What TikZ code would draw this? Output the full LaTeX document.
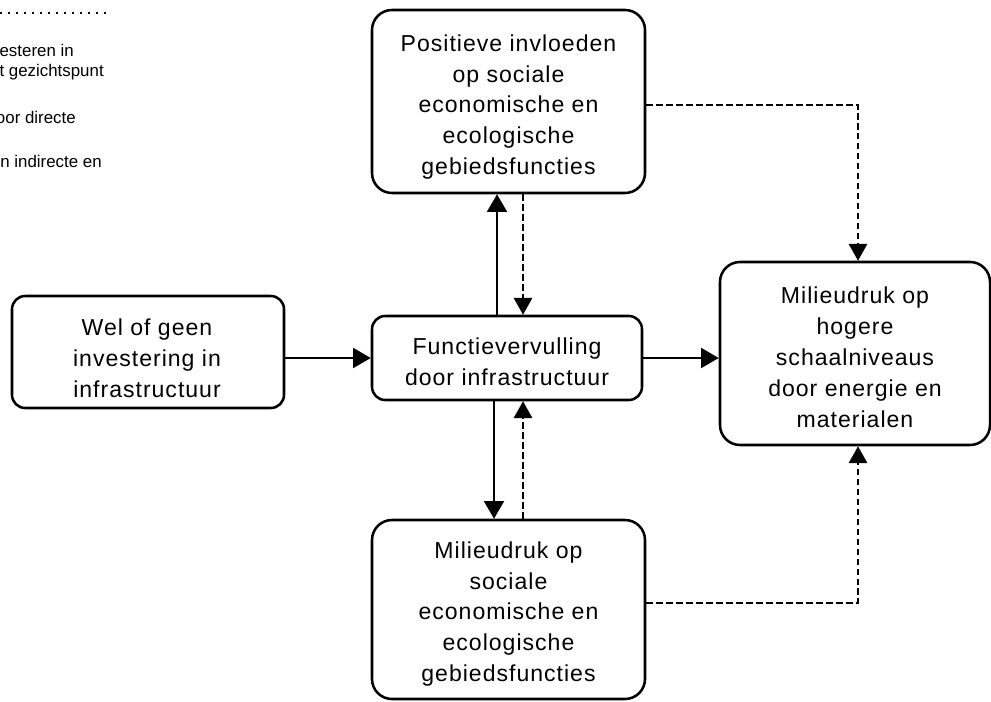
\documentclass[tikz,border=0pt]{standalone}
\usepackage{fontspec}
\setmainfont{Liberation Sans}
\newfontfamily\boxfont{Liberation Sans}[LetterSpace=4.3]
\usetikzlibrary{arrows.meta}

\tikzset{
  box/.style={draw, line width=1.8pt, rounded corners=0.5cm, inner sep=0pt},
  smallbox/.style={box, rounded corners=0.33cm},
  boxtext/.style={align=center, inner sep=0pt,
    font=\boxfont\fontsize{16.4pt}{22pt}\selectfont},
  notetext/.style={anchor=base east, inner sep=0pt,
    font=\fontsize{12pt}{14pt}\selectfont},
  flow/.style={line width=1.9pt, -{Triangle[length=12.5pt,width=14pt]}},
  side/.style={line width=1.5pt, dash pattern=on 4.7pt off 2.4pt,
    -{Triangle[length=12pt,width=13pt]}},
  dots/.style={line width=1.4pt, dash pattern=on 1.4pt off 4.3pt},
}

\begin{document}
\begin{tikzpicture}[x=0.025cm, y=-0.025cm]
  \useasboundingbox (0,0) rectangle (991,702);

  % legend remnant in the upper left corner
  \begin{scope}
    \clip (0,0) rectangle (991,702);
    \coordinate (dotA) at (0,13);
    \coordinate (dotB) at (112,13);
    \draw[dots] (dotA) -- (dotB);
    \node[notetext] (n1) at (74,57) {esteren in};
    \node[notetext] (n2) at (104,77) {t gezichtspunt};
    \node[notetext] (n3) at (76,124) {oor directe};
    \node[notetext] (n4) at (102,168) {n indirecte en};
  \end{scope}

  % boxes
  \node[box, minimum width=273*0.025cm, minimum height=183*0.025cm] (top) at (508.5,101.5) {};
  \node[smallbox, minimum width=270*0.025cm, minimum height=84*0.025cm] (mid) at (507,358) {};
  \node[smallbox, minimum width=272*0.025cm, minimum height=112*0.025cm] (left) at (148,352) {};
  \node[box, minimum width=270*0.025cm, minimum height=183*0.025cm] (right) at (855,353.5) {};
  \node[box, minimum width=273*0.025cm, minimum height=179*0.025cm] (bot) at (508.5,609.5) {};

  % box texts
  \node[boxtext] (topt) at (508.5,107) {Positieve invloeden\\op sociale\\economische en\\ecologische\\gebiedsfuncties};
  \node[boxtext] (midt) at (507,362) {Functievervulling\\door infrastructuur};
  \node[boxtext] (leftt) at (147,358) {Wel of geen\\investering in\\infrastructuur};
  \node[boxtext] (rightt) at (855,357) {Milieudruk op\\hogere\\schaalniveaus\\door energie en\\materialen};
  \node[boxtext] (bott) at (508.5,614) {Milieudruk op\\sociale\\economische en\\ecologische\\gebiedsfuncties};

  % columns and rows used by the connectors
  \coordinate (colUp) at (497,0);
  \coordinate (colDash) at (523,0);
  \coordinate (colDown) at (494,0);
  \coordinate (colSide) at (858,0);
  \coordinate (rowTop) at (0,105);
  \coordinate (rowBot) at (0,603);

  % main flow
  \draw[flow] (left.east |- mid.west) -- (mid.west);
  \draw[flow] (mid.east) -- (right.west |- mid.east);
  \draw[flow] (colUp |- mid.north) -- (colUp |- top.south);
  \draw[flow] (colDown |- mid.south) -- (colDown |- bot.north);

  % feedback links
  \draw[side] (colDash |- top.south) -- (colDash |- mid.north);
  \draw[side] (colDash |- bot.north) -- (colDash |- mid.south);
  \draw[side] (top.east |- rowTop) -| (colSide |- right.north);
  \draw[side] (bot.east |- rowBot) -| (colSide |- right.south);
\end{tikzpicture}
\end{document}
